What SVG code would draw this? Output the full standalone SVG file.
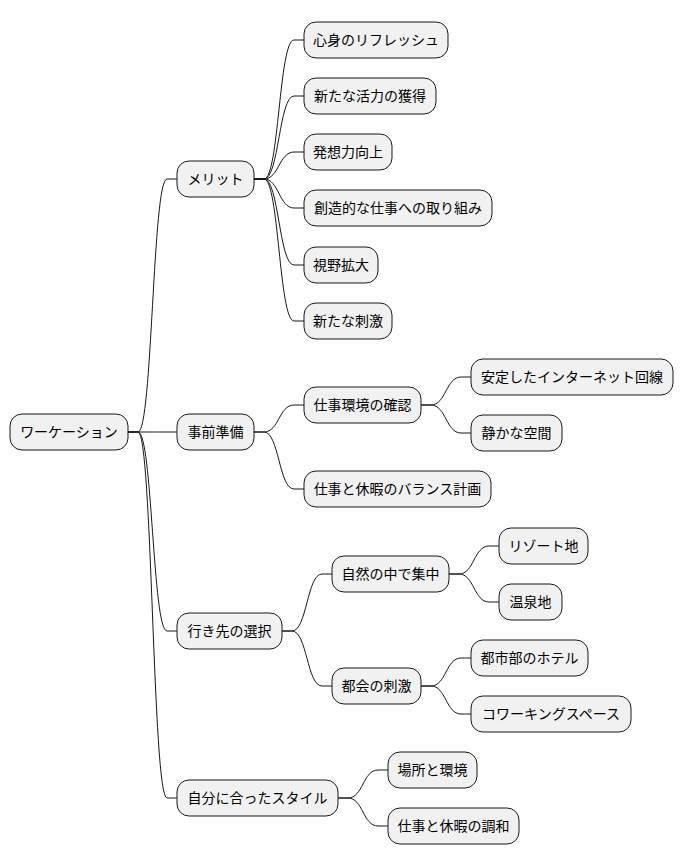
<svg xmlns="http://www.w3.org/2000/svg" width="684" height="865" viewBox="0 0 684 865">
<style>
rect{fill:#F1F1F1;stroke:#181818;stroke-width:1}
text{font-family:"Noto Sans CJK JP","Noto Sans CJK SC",sans-serif;font-size:14px;fill:#000;text-anchor:middle}
#c path{fill:none;stroke:#181818;stroke-width:1}
</style>
<rect x="0" y="0" width="684" height="865" style="fill:#fff;stroke:none"/>
<g id="c">
<path d="M128 432 L138 432 C152.5 432 152.5 179 167 179 L177 179"/>
<path d="M128 432 L138 432 C152.5 432 152.5 432 167 432 L177 432"/>
<path d="M128 432 L138 432 C152.5 432 152.5 631 167 631 L177 631"/>
<path d="M128 432 L138 432 C152.5 432 152.5 798 167 798 L177 798"/>
<path d="M254 179 L264 179 C279 179 279 40 294 40 L304 40"/>
<path d="M254 179 L264 179 C279 179 279 96 294 96 L304 96"/>
<path d="M254 179 L264 179 C279 179 279 152 294 152 L304 152"/>
<path d="M254 179 L264 179 C279 179 279 208 294 208 L304 208"/>
<path d="M254 179 L264 179 C279 179 279 265 294 265 L304 265"/>
<path d="M254 179 L264 179 C279 179 279 321 294 321 L304 321"/>
<path d="M254 432 L264 432 C279 432 279 405 294 405 L304 405"/>
<path d="M254 432 L264 432 C279 432 279 489 294 489 L304 489"/>
<path d="M421 405 L431 405 C446 405 446 377 461 377 L471 377"/>
<path d="M421 405 L431 405 C446 405 446 433 461 433 L471 433"/>
<path d="M282 631 L292 631 C307 631 307 574 322 574 L332 574"/>
<path d="M282 631 L292 631 C307 631 307 686 322 686 L332 686"/>
<path d="M449 574 L459 574 C474 574 474 546 489 546 L499 546"/>
<path d="M449 574 L459 574 C474 574 474 602 489 602 L499 602"/>
<path d="M421 686 L431 686 C446 686 446 658 461 658 L471 658"/>
<path d="M421 686 L431 686 C446 686 446 714 461 714 L471 714"/>
<path d="M338 798 L348 798 C363 798 363 770 378 770 L388 770"/>
<path d="M338 798 L348 798 C363 798 363 826 378 826 L388 826"/>
</g>
<g id="root"><rect x="10" y="414" width="118" height="36" rx="12"/><text x="69" y="437">ワーケーション</text></g>
<g id="merit"><rect x="177" y="161" width="77" height="36" rx="12"/><text x="215.5" y="184">メリット</text></g>
<g id="m1"><rect x="304" y="22" width="144" height="36" rx="12"/><text x="376" y="45">心身のリフレッシュ</text></g>
<g id="m2"><rect x="304" y="78" width="132" height="36" rx="12"/><text x="370" y="101">新たな活力の獲得</text></g>
<g id="m3"><rect x="304" y="134" width="88" height="36" rx="12"/><text x="348" y="157">発想力向上</text></g>
<g id="m4"><rect x="304" y="190" width="188" height="36" rx="12"/><text x="398" y="213">創造的な仕事への取り組み</text></g>
<g id="m5"><rect x="304" y="247" width="74" height="36" rx="12"/><text x="341" y="270">視野拡大</text></g>
<g id="m6"><rect x="304" y="303" width="88" height="36" rx="12"/><text x="348" y="326">新たな刺激</text></g>
<g id="prep"><rect x="177" y="414" width="77" height="36" rx="12"/><text x="215.5" y="437">事前準備</text></g>
<g id="p1"><rect x="304" y="387" width="117" height="36" rx="12"/><text x="362.5" y="410">仕事環境の確認</text></g>
<g id="p1a"><rect x="471" y="359" width="202" height="36" rx="12"/><text x="572" y="382">安定したインターネット回線</text></g>
<g id="p1b"><rect x="471" y="415" width="91" height="36" rx="12"/><text x="516.5" y="438">静かな空間</text></g>
<g id="p2"><rect x="304" y="471" width="187" height="36" rx="12"/><text x="397.5" y="494">仕事と休暇のバランス計画</text></g>
<g id="dest"><rect x="177" y="613" width="105" height="36" rx="12"/><text x="229.5" y="636">行き先の選択</text></g>
<g id="d1"><rect x="332" y="556" width="117" height="36" rx="12"/><text x="390.5" y="579">自然の中で集中</text></g>
<g id="d1a"><rect x="499" y="528" width="89" height="36" rx="12"/><text x="543.5" y="551">リゾート地</text></g>
<g id="d1b"><rect x="499" y="584" width="63" height="36" rx="12"/><text x="530.5" y="607">温泉地</text></g>
<g id="d2"><rect x="332" y="668" width="89" height="36" rx="12"/><text x="376.5" y="691">都会の刺激</text></g>
<g id="d2a"><rect x="471" y="640" width="117" height="36" rx="12"/><text x="529.5" y="663">都市部のホテル</text></g>
<g id="d2b"><rect x="471" y="696" width="160" height="36" rx="12"/><text x="551" y="719">コワーキングスペース</text></g>
<g id="style"><rect x="177" y="780" width="161" height="36" rx="12"/><text x="257.5" y="803">自分に合ったスタイル</text></g>
<g id="s1"><rect x="388" y="752" width="89" height="36" rx="12"/><text x="432.5" y="775">場所と環境</text></g>
<g id="s2"><rect x="388" y="808" width="131" height="36" rx="12"/><text x="453.5" y="831">仕事と休暇の調和</text></g>
</svg>
